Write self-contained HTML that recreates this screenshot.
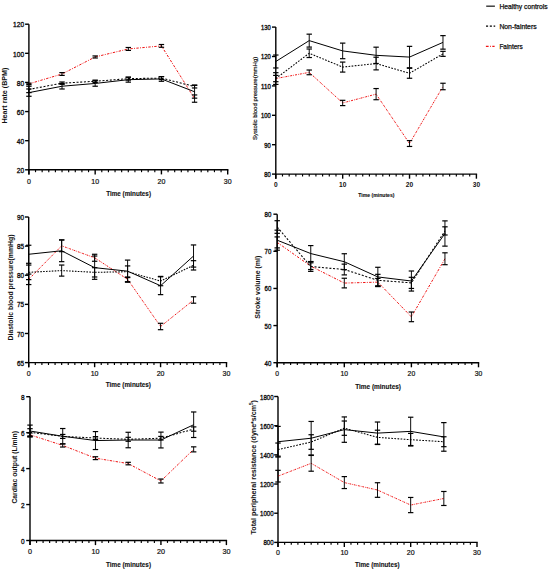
<!DOCTYPE html>
<html><head><meta charset="utf-8"><style>
html,body{margin:0;padding:0;background:#fff;}
svg{display:block;font-family:"Liberation Sans", sans-serif;}
</style></head><body>
<svg width="550" height="572" viewBox="0 0 550 572" fill="#111">
<rect width="550" height="572" fill="#fff"/>
<g id="p1">
<line x1="28.90" y1="24.20" x2="28.90" y2="174.40" stroke="#000" stroke-width="1.4" />
<line x1="28.20" y1="169.80" x2="228.40" y2="169.80" stroke="#000" stroke-width="1.4" />
<line x1="25.10" y1="169.80" x2="28.90" y2="169.80" stroke="#000" stroke-width="1.4" />
<text x="20.43" y="173.00" text-anchor="middle" font-size="7.3" font-weight="normal" textLength="7.34" lengthAdjust="spacingAndGlyphs" stroke="#111" stroke-width="0.34" >20</text>
<line x1="25.10" y1="140.68" x2="28.90" y2="140.68" stroke="#000" stroke-width="1.4" />
<text x="20.43" y="143.88" text-anchor="middle" font-size="7.3" font-weight="normal" textLength="7.34" lengthAdjust="spacingAndGlyphs" stroke="#111" stroke-width="0.34" >40</text>
<line x1="25.10" y1="111.56" x2="28.90" y2="111.56" stroke="#000" stroke-width="1.4" />
<text x="20.43" y="114.76" text-anchor="middle" font-size="7.3" font-weight="normal" textLength="7.34" lengthAdjust="spacingAndGlyphs" stroke="#111" stroke-width="0.34" >60</text>
<line x1="25.10" y1="82.44" x2="28.90" y2="82.44" stroke="#000" stroke-width="1.4" />
<text x="20.43" y="85.64" text-anchor="middle" font-size="7.3" font-weight="normal" textLength="7.34" lengthAdjust="spacingAndGlyphs" stroke="#111" stroke-width="0.34" >80</text>
<line x1="25.10" y1="53.32" x2="28.90" y2="53.32" stroke="#000" stroke-width="1.4" />
<text x="18.59" y="56.52" text-anchor="middle" font-size="7.3" font-weight="normal" textLength="11.01" lengthAdjust="spacingAndGlyphs" stroke="#111" stroke-width="0.34" >100</text>
<line x1="25.10" y1="24.20" x2="28.90" y2="24.20" stroke="#000" stroke-width="1.4" />
<text x="18.59" y="27.40" text-anchor="middle" font-size="7.3" font-weight="normal" textLength="11.01" lengthAdjust="spacingAndGlyphs" stroke="#111" stroke-width="0.34" >120</text>
<line x1="28.90" y1="169.80" x2="28.90" y2="174.40" stroke="#000" stroke-width="1.4" />
<text x="28.90" y="183.52" text-anchor="middle" font-size="7.0" font-weight="normal" stroke="#111" stroke-width="0.2" >0</text>
<line x1="35.53" y1="169.80" x2="35.53" y2="172.20" stroke="#000" stroke-width="1.15" />
<line x1="42.15" y1="169.80" x2="42.15" y2="172.20" stroke="#000" stroke-width="1.15" />
<line x1="48.78" y1="169.80" x2="48.78" y2="172.20" stroke="#000" stroke-width="1.15" />
<line x1="55.41" y1="169.80" x2="55.41" y2="172.20" stroke="#000" stroke-width="1.15" />
<line x1="62.03" y1="169.80" x2="62.03" y2="172.20" stroke="#000" stroke-width="1.15" />
<line x1="68.66" y1="169.80" x2="68.66" y2="172.20" stroke="#000" stroke-width="1.15" />
<line x1="75.29" y1="169.80" x2="75.29" y2="172.20" stroke="#000" stroke-width="1.15" />
<line x1="81.91" y1="169.80" x2="81.91" y2="172.20" stroke="#000" stroke-width="1.15" />
<line x1="88.54" y1="169.80" x2="88.54" y2="172.20" stroke="#000" stroke-width="1.15" />
<line x1="95.17" y1="169.80" x2="95.17" y2="174.40" stroke="#000" stroke-width="1.4" />
<text x="95.17" y="183.52" text-anchor="middle" font-size="7.0" font-weight="normal" stroke="#111" stroke-width="0.2" >10</text>
<line x1="101.79" y1="169.80" x2="101.79" y2="172.20" stroke="#000" stroke-width="1.15" />
<line x1="108.42" y1="169.80" x2="108.42" y2="172.20" stroke="#000" stroke-width="1.15" />
<line x1="115.05" y1="169.80" x2="115.05" y2="172.20" stroke="#000" stroke-width="1.15" />
<line x1="121.67" y1="169.80" x2="121.67" y2="172.20" stroke="#000" stroke-width="1.15" />
<line x1="128.30" y1="169.80" x2="128.30" y2="172.20" stroke="#000" stroke-width="1.15" />
<line x1="134.93" y1="169.80" x2="134.93" y2="172.20" stroke="#000" stroke-width="1.15" />
<line x1="141.55" y1="169.80" x2="141.55" y2="172.20" stroke="#000" stroke-width="1.15" />
<line x1="148.18" y1="169.80" x2="148.18" y2="172.20" stroke="#000" stroke-width="1.15" />
<line x1="154.81" y1="169.80" x2="154.81" y2="172.20" stroke="#000" stroke-width="1.15" />
<line x1="161.43" y1="169.80" x2="161.43" y2="174.40" stroke="#000" stroke-width="1.4" />
<text x="161.43" y="183.52" text-anchor="middle" font-size="7.0" font-weight="normal" stroke="#111" stroke-width="0.2" >20</text>
<line x1="168.06" y1="169.80" x2="168.06" y2="172.20" stroke="#000" stroke-width="1.15" />
<line x1="174.69" y1="169.80" x2="174.69" y2="172.20" stroke="#000" stroke-width="1.15" />
<line x1="181.31" y1="169.80" x2="181.31" y2="172.20" stroke="#000" stroke-width="1.15" />
<line x1="187.94" y1="169.80" x2="187.94" y2="172.20" stroke="#000" stroke-width="1.15" />
<line x1="194.57" y1="169.80" x2="194.57" y2="172.20" stroke="#000" stroke-width="1.15" />
<line x1="201.19" y1="169.80" x2="201.19" y2="172.20" stroke="#000" stroke-width="1.15" />
<line x1="207.82" y1="169.80" x2="207.82" y2="172.20" stroke="#000" stroke-width="1.15" />
<line x1="214.45" y1="169.80" x2="214.45" y2="172.20" stroke="#000" stroke-width="1.15" />
<line x1="221.07" y1="169.80" x2="221.07" y2="172.20" stroke="#000" stroke-width="1.15" />
<line x1="227.70" y1="169.80" x2="227.70" y2="174.40" stroke="#000" stroke-width="1.4" />
<text x="227.70" y="183.52" text-anchor="middle" font-size="7.0" font-weight="normal" stroke="#111" stroke-width="0.2" >30</text>
<text x="128.60" y="195.70" text-anchor="middle" font-size="6.8" font-weight="bold" textLength="44.80" lengthAdjust="spacingAndGlyphs" stroke="#111" stroke-width="0.12" >Time (minutes)</text>
<text transform="translate(7.30,95.60) rotate(-90)" text-anchor="middle" font-size="6.6" font-weight="bold" textLength="56.00" lengthAdjust="spacingAndGlyphs" >Heart rate (BPM)</text>
<polyline points="28.90,83.90 62.03,74.00 95.17,56.96 128.30,48.95 161.43,45.89 194.57,98.60" fill="none" stroke="#f01414" stroke-width="1.0" stroke-dasharray="2.40,1.35,0.90,1.35"/>
<polyline points="28.90,89.43 62.03,83.17 95.17,81.28 128.30,78.65 161.43,78.07 194.57,86.52" fill="none" stroke="#000" stroke-width="1.05" stroke-dasharray="2.04,1.67"/>
<polyline points="28.90,92.63 62.03,86.23 95.17,83.46 128.30,79.67 161.43,78.95 194.57,91.76" fill="none" stroke="#000" stroke-width="1.0" />
<line x1="28.90" y1="88.99" x2="28.90" y2="96.27" stroke="#000" stroke-width="0.95" />
<line x1="26.20" y1="88.99" x2="31.60" y2="88.99" stroke="#000" stroke-width="1.2" />
<line x1="26.20" y1="96.27" x2="31.60" y2="96.27" stroke="#000" stroke-width="1.2" />
<line x1="62.03" y1="83.46" x2="62.03" y2="88.99" stroke="#000" stroke-width="0.95" />
<line x1="59.33" y1="83.46" x2="64.73" y2="83.46" stroke="#000" stroke-width="1.2" />
<line x1="59.33" y1="88.99" x2="64.73" y2="88.99" stroke="#000" stroke-width="1.2" />
<line x1="95.17" y1="80.69" x2="95.17" y2="86.23" stroke="#000" stroke-width="0.95" />
<line x1="92.47" y1="80.69" x2="97.87" y2="80.69" stroke="#000" stroke-width="1.2" />
<line x1="92.47" y1="86.23" x2="97.87" y2="86.23" stroke="#000" stroke-width="1.2" />
<line x1="128.30" y1="77.20" x2="128.30" y2="82.15" stroke="#000" stroke-width="0.95" />
<line x1="125.60" y1="77.20" x2="131.00" y2="77.20" stroke="#000" stroke-width="1.2" />
<line x1="125.60" y1="82.15" x2="131.00" y2="82.15" stroke="#000" stroke-width="1.2" />
<line x1="161.43" y1="76.62" x2="161.43" y2="81.28" stroke="#000" stroke-width="0.95" />
<line x1="158.73" y1="76.62" x2="164.13" y2="76.62" stroke="#000" stroke-width="1.2" />
<line x1="158.73" y1="81.28" x2="164.13" y2="81.28" stroke="#000" stroke-width="1.2" />
<line x1="194.57" y1="85.35" x2="194.57" y2="98.16" stroke="#000" stroke-width="0.95" />
<line x1="191.87" y1="85.35" x2="197.27" y2="85.35" stroke="#000" stroke-width="1.2" />
<line x1="191.87" y1="98.16" x2="197.27" y2="98.16" stroke="#000" stroke-width="1.2" />
<line x1="28.90" y1="86.23" x2="28.90" y2="92.63" stroke="#000" stroke-width="0.95" />
<line x1="26.20" y1="86.23" x2="31.60" y2="86.23" stroke="#000" stroke-width="1.2" />
<line x1="26.20" y1="92.63" x2="31.60" y2="92.63" stroke="#000" stroke-width="1.2" />
<line x1="62.03" y1="82.00" x2="62.03" y2="84.33" stroke="#000" stroke-width="0.95" />
<line x1="59.33" y1="82.00" x2="64.73" y2="82.00" stroke="#000" stroke-width="1.2" />
<line x1="59.33" y1="84.33" x2="64.73" y2="84.33" stroke="#000" stroke-width="1.2" />
<line x1="95.17" y1="80.11" x2="95.17" y2="82.44" stroke="#000" stroke-width="0.95" />
<line x1="92.47" y1="80.11" x2="97.87" y2="80.11" stroke="#000" stroke-width="1.2" />
<line x1="92.47" y1="82.44" x2="97.87" y2="82.44" stroke="#000" stroke-width="1.2" />
<line x1="128.30" y1="77.20" x2="128.30" y2="80.11" stroke="#000" stroke-width="0.95" />
<line x1="125.60" y1="77.20" x2="131.00" y2="77.20" stroke="#000" stroke-width="1.2" />
<line x1="125.60" y1="80.11" x2="131.00" y2="80.11" stroke="#000" stroke-width="1.2" />
<line x1="161.43" y1="76.62" x2="161.43" y2="79.53" stroke="#000" stroke-width="0.95" />
<line x1="158.73" y1="76.62" x2="164.13" y2="76.62" stroke="#000" stroke-width="1.2" />
<line x1="158.73" y1="79.53" x2="164.13" y2="79.53" stroke="#000" stroke-width="1.2" />
<line x1="194.57" y1="85.06" x2="194.57" y2="87.97" stroke="#000" stroke-width="0.95" />
<line x1="191.87" y1="85.06" x2="197.27" y2="85.06" stroke="#000" stroke-width="1.2" />
<line x1="191.87" y1="87.97" x2="197.27" y2="87.97" stroke="#000" stroke-width="1.2" />
<line x1="28.90" y1="83.17" x2="28.90" y2="84.62" stroke="#000" stroke-width="0.95" />
<line x1="26.20" y1="83.17" x2="31.60" y2="83.17" stroke="#000" stroke-width="1.2" />
<line x1="26.20" y1="84.62" x2="31.60" y2="84.62" stroke="#000" stroke-width="1.2" />
<line x1="62.03" y1="72.61" x2="62.03" y2="75.38" stroke="#000" stroke-width="0.95" />
<line x1="59.33" y1="72.61" x2="64.73" y2="72.61" stroke="#000" stroke-width="1.2" />
<line x1="59.33" y1="75.38" x2="64.73" y2="75.38" stroke="#000" stroke-width="1.2" />
<line x1="95.17" y1="55.94" x2="95.17" y2="57.98" stroke="#000" stroke-width="0.95" />
<line x1="92.47" y1="55.94" x2="97.87" y2="55.94" stroke="#000" stroke-width="1.2" />
<line x1="92.47" y1="57.98" x2="97.87" y2="57.98" stroke="#000" stroke-width="1.2" />
<line x1="128.30" y1="47.50" x2="128.30" y2="50.41" stroke="#000" stroke-width="0.95" />
<line x1="125.60" y1="47.50" x2="131.00" y2="47.50" stroke="#000" stroke-width="1.2" />
<line x1="125.60" y1="50.41" x2="131.00" y2="50.41" stroke="#000" stroke-width="1.2" />
<line x1="161.43" y1="44.51" x2="161.43" y2="47.28" stroke="#000" stroke-width="0.95" />
<line x1="158.73" y1="44.51" x2="164.13" y2="44.51" stroke="#000" stroke-width="1.2" />
<line x1="158.73" y1="47.28" x2="164.13" y2="47.28" stroke="#000" stroke-width="1.2" />
<line x1="194.57" y1="94.96" x2="194.57" y2="102.24" stroke="#000" stroke-width="0.95" />
<line x1="191.87" y1="94.96" x2="197.27" y2="94.96" stroke="#000" stroke-width="1.2" />
<line x1="191.87" y1="102.24" x2="197.27" y2="102.24" stroke="#000" stroke-width="1.2" />
</g>
<g id="p2">
<line x1="275.80" y1="27.10" x2="275.80" y2="178.70" stroke="#000" stroke-width="1.4" />
<line x1="275.10" y1="174.10" x2="477.10" y2="174.10" stroke="#000" stroke-width="1.4" />
<line x1="272.00" y1="174.10" x2="275.80" y2="174.10" stroke="#000" stroke-width="1.4" />
<text x="267.55" y="176.97" text-anchor="middle" font-size="6.4" font-weight="normal" textLength="6.50" lengthAdjust="spacingAndGlyphs" stroke="#111" stroke-width="0.34" >80</text>
<line x1="272.00" y1="144.70" x2="275.80" y2="144.70" stroke="#000" stroke-width="1.4" />
<text x="267.55" y="147.57" text-anchor="middle" font-size="6.4" font-weight="normal" textLength="6.50" lengthAdjust="spacingAndGlyphs" stroke="#111" stroke-width="0.34" >90</text>
<line x1="272.00" y1="115.30" x2="275.80" y2="115.30" stroke="#000" stroke-width="1.4" />
<text x="265.93" y="118.17" text-anchor="middle" font-size="6.4" font-weight="normal" textLength="9.75" lengthAdjust="spacingAndGlyphs" stroke="#111" stroke-width="0.34" >100</text>
<line x1="272.00" y1="85.90" x2="275.80" y2="85.90" stroke="#000" stroke-width="1.4" />
<text x="265.93" y="88.77" text-anchor="middle" font-size="6.4" font-weight="normal" textLength="9.75" lengthAdjust="spacingAndGlyphs" stroke="#111" stroke-width="0.34" >110</text>
<line x1="272.00" y1="56.50" x2="275.80" y2="56.50" stroke="#000" stroke-width="1.4" />
<text x="265.93" y="59.37" text-anchor="middle" font-size="6.4" font-weight="normal" textLength="9.75" lengthAdjust="spacingAndGlyphs" stroke="#111" stroke-width="0.34" >120</text>
<line x1="272.00" y1="27.10" x2="275.80" y2="27.10" stroke="#000" stroke-width="1.4" />
<text x="265.93" y="29.97" text-anchor="middle" font-size="6.4" font-weight="normal" textLength="9.75" lengthAdjust="spacingAndGlyphs" stroke="#111" stroke-width="0.34" >130</text>
<line x1="275.80" y1="174.10" x2="275.80" y2="178.70" stroke="#000" stroke-width="1.4" />
<text x="275.80" y="186.78" text-anchor="middle" font-size="6.6" font-weight="bold" >0</text>
<line x1="282.49" y1="174.10" x2="282.49" y2="176.50" stroke="#000" stroke-width="1.15" />
<line x1="289.17" y1="174.10" x2="289.17" y2="176.50" stroke="#000" stroke-width="1.15" />
<line x1="295.86" y1="174.10" x2="295.86" y2="176.50" stroke="#000" stroke-width="1.15" />
<line x1="302.55" y1="174.10" x2="302.55" y2="176.50" stroke="#000" stroke-width="1.15" />
<line x1="309.23" y1="174.10" x2="309.23" y2="176.50" stroke="#000" stroke-width="1.15" />
<line x1="315.92" y1="174.10" x2="315.92" y2="176.50" stroke="#000" stroke-width="1.15" />
<line x1="322.61" y1="174.10" x2="322.61" y2="176.50" stroke="#000" stroke-width="1.15" />
<line x1="329.29" y1="174.10" x2="329.29" y2="176.50" stroke="#000" stroke-width="1.15" />
<line x1="335.98" y1="174.10" x2="335.98" y2="176.50" stroke="#000" stroke-width="1.15" />
<line x1="342.67" y1="174.10" x2="342.67" y2="178.70" stroke="#000" stroke-width="1.4" />
<text x="342.67" y="186.78" text-anchor="middle" font-size="6.6" font-weight="bold" >10</text>
<line x1="349.35" y1="174.10" x2="349.35" y2="176.50" stroke="#000" stroke-width="1.15" />
<line x1="356.04" y1="174.10" x2="356.04" y2="176.50" stroke="#000" stroke-width="1.15" />
<line x1="362.73" y1="174.10" x2="362.73" y2="176.50" stroke="#000" stroke-width="1.15" />
<line x1="369.41" y1="174.10" x2="369.41" y2="176.50" stroke="#000" stroke-width="1.15" />
<line x1="376.10" y1="174.10" x2="376.10" y2="176.50" stroke="#000" stroke-width="1.15" />
<line x1="382.79" y1="174.10" x2="382.79" y2="176.50" stroke="#000" stroke-width="1.15" />
<line x1="389.47" y1="174.10" x2="389.47" y2="176.50" stroke="#000" stroke-width="1.15" />
<line x1="396.16" y1="174.10" x2="396.16" y2="176.50" stroke="#000" stroke-width="1.15" />
<line x1="402.85" y1="174.10" x2="402.85" y2="176.50" stroke="#000" stroke-width="1.15" />
<line x1="409.53" y1="174.10" x2="409.53" y2="178.70" stroke="#000" stroke-width="1.4" />
<text x="409.53" y="186.78" text-anchor="middle" font-size="6.6" font-weight="bold" >20</text>
<line x1="416.22" y1="174.10" x2="416.22" y2="176.50" stroke="#000" stroke-width="1.15" />
<line x1="422.91" y1="174.10" x2="422.91" y2="176.50" stroke="#000" stroke-width="1.15" />
<line x1="429.59" y1="174.10" x2="429.59" y2="176.50" stroke="#000" stroke-width="1.15" />
<line x1="436.28" y1="174.10" x2="436.28" y2="176.50" stroke="#000" stroke-width="1.15" />
<line x1="442.97" y1="174.10" x2="442.97" y2="176.50" stroke="#000" stroke-width="1.15" />
<line x1="449.65" y1="174.10" x2="449.65" y2="176.50" stroke="#000" stroke-width="1.15" />
<line x1="456.34" y1="174.10" x2="456.34" y2="176.50" stroke="#000" stroke-width="1.15" />
<line x1="463.03" y1="174.10" x2="463.03" y2="176.50" stroke="#000" stroke-width="1.15" />
<line x1="469.71" y1="174.10" x2="469.71" y2="176.50" stroke="#000" stroke-width="1.15" />
<line x1="476.40" y1="174.10" x2="476.40" y2="178.70" stroke="#000" stroke-width="1.4" />
<text x="476.40" y="186.78" text-anchor="middle" font-size="6.6" font-weight="bold" >30</text>
<text x="376.35" y="197.00" text-anchor="middle" font-size="5.5" font-weight="bold" textLength="36.30" lengthAdjust="spacingAndGlyphs" stroke="#111" stroke-width="0.12" >Time (minutes)</text>
<text transform="translate(256.60,98.45) rotate(-90)" text-anchor="middle" font-size="5.8" font-weight="normal" textLength="83.30" lengthAdjust="spacingAndGlyphs" stroke="#111" stroke-width="0.2" >Systolic blood pressure(mmHg)</text>
<polyline points="275.80,78.55 309.23,72.38 342.67,102.95 376.10,94.13 409.53,143.52 442.97,86.49" fill="none" stroke="#f01414" stroke-width="1.0" stroke-dasharray="1.96,1.10,0.73,1.10"/>
<polyline points="275.80,78.55 309.23,53.27 342.67,67.08 376.10,63.56 409.53,73.26 442.97,53.85" fill="none" stroke="#000" stroke-width="1.05" stroke-dasharray="1.71,1.40"/>
<polyline points="275.80,61.50 309.23,40.62 342.67,50.91 376.10,55.32 409.53,57.09 442.97,42.39" fill="none" stroke="#000" stroke-width="1.0" />
<line x1="275.80" y1="55.03" x2="275.80" y2="67.97" stroke="#000" stroke-width="0.95" />
<line x1="273.10" y1="55.03" x2="278.50" y2="55.03" stroke="#000" stroke-width="1.2" />
<line x1="273.10" y1="67.97" x2="278.50" y2="67.97" stroke="#000" stroke-width="1.2" />
<line x1="309.23" y1="34.16" x2="309.23" y2="47.09" stroke="#000" stroke-width="0.95" />
<line x1="306.53" y1="34.16" x2="311.93" y2="34.16" stroke="#000" stroke-width="1.2" />
<line x1="306.53" y1="47.09" x2="311.93" y2="47.09" stroke="#000" stroke-width="1.2" />
<line x1="342.67" y1="43.12" x2="342.67" y2="58.70" stroke="#000" stroke-width="0.95" />
<line x1="339.97" y1="43.12" x2="345.37" y2="43.12" stroke="#000" stroke-width="1.2" />
<line x1="339.97" y1="58.70" x2="345.37" y2="58.70" stroke="#000" stroke-width="1.2" />
<line x1="376.10" y1="47.18" x2="376.10" y2="63.47" stroke="#000" stroke-width="0.95" />
<line x1="373.40" y1="47.18" x2="378.80" y2="47.18" stroke="#000" stroke-width="1.2" />
<line x1="373.40" y1="63.47" x2="378.80" y2="63.47" stroke="#000" stroke-width="1.2" />
<line x1="409.53" y1="46.36" x2="409.53" y2="67.82" stroke="#000" stroke-width="0.95" />
<line x1="406.83" y1="46.36" x2="412.23" y2="46.36" stroke="#000" stroke-width="1.2" />
<line x1="406.83" y1="67.82" x2="412.23" y2="67.82" stroke="#000" stroke-width="1.2" />
<line x1="442.97" y1="35.63" x2="442.97" y2="49.15" stroke="#000" stroke-width="0.95" />
<line x1="440.27" y1="35.63" x2="445.67" y2="35.63" stroke="#000" stroke-width="1.2" />
<line x1="440.27" y1="49.15" x2="445.67" y2="49.15" stroke="#000" stroke-width="1.2" />
<line x1="275.80" y1="72.67" x2="275.80" y2="84.43" stroke="#000" stroke-width="0.95" />
<line x1="273.10" y1="72.67" x2="278.50" y2="72.67" stroke="#000" stroke-width="1.2" />
<line x1="273.10" y1="84.43" x2="278.50" y2="84.43" stroke="#000" stroke-width="1.2" />
<line x1="309.23" y1="49.00" x2="309.23" y2="57.53" stroke="#000" stroke-width="0.95" />
<line x1="306.53" y1="49.00" x2="311.93" y2="49.00" stroke="#000" stroke-width="1.2" />
<line x1="306.53" y1="57.53" x2="311.93" y2="57.53" stroke="#000" stroke-width="1.2" />
<line x1="342.67" y1="62.09" x2="342.67" y2="72.08" stroke="#000" stroke-width="0.95" />
<line x1="339.97" y1="62.09" x2="345.37" y2="62.09" stroke="#000" stroke-width="1.2" />
<line x1="339.97" y1="72.08" x2="345.37" y2="72.08" stroke="#000" stroke-width="1.2" />
<line x1="376.10" y1="57.23" x2="376.10" y2="69.88" stroke="#000" stroke-width="0.95" />
<line x1="373.40" y1="57.23" x2="378.80" y2="57.23" stroke="#000" stroke-width="1.2" />
<line x1="373.40" y1="69.88" x2="378.80" y2="69.88" stroke="#000" stroke-width="1.2" />
<line x1="409.53" y1="68.26" x2="409.53" y2="78.26" stroke="#000" stroke-width="0.95" />
<line x1="406.83" y1="68.26" x2="412.23" y2="68.26" stroke="#000" stroke-width="1.2" />
<line x1="406.83" y1="78.26" x2="412.23" y2="78.26" stroke="#000" stroke-width="1.2" />
<line x1="442.97" y1="51.35" x2="442.97" y2="56.35" stroke="#000" stroke-width="0.95" />
<line x1="440.27" y1="51.35" x2="445.67" y2="51.35" stroke="#000" stroke-width="1.2" />
<line x1="440.27" y1="56.35" x2="445.67" y2="56.35" stroke="#000" stroke-width="1.2" />
<line x1="275.80" y1="75.40" x2="275.80" y2="81.70" stroke="#000" stroke-width="0.95" />
<line x1="273.10" y1="75.40" x2="278.50" y2="75.40" stroke="#000" stroke-width="1.2" />
<line x1="273.10" y1="81.70" x2="278.50" y2="81.70" stroke="#000" stroke-width="1.2" />
<line x1="309.23" y1="70.02" x2="309.23" y2="74.73" stroke="#000" stroke-width="0.95" />
<line x1="306.53" y1="70.02" x2="311.93" y2="70.02" stroke="#000" stroke-width="1.2" />
<line x1="306.53" y1="74.73" x2="311.93" y2="74.73" stroke="#000" stroke-width="1.2" />
<line x1="342.67" y1="100.31" x2="342.67" y2="105.60" stroke="#000" stroke-width="0.95" />
<line x1="339.97" y1="100.31" x2="345.37" y2="100.31" stroke="#000" stroke-width="1.2" />
<line x1="339.97" y1="105.60" x2="345.37" y2="105.60" stroke="#000" stroke-width="1.2" />
<line x1="376.10" y1="88.55" x2="376.10" y2="99.72" stroke="#000" stroke-width="0.95" />
<line x1="373.40" y1="88.55" x2="378.80" y2="88.55" stroke="#000" stroke-width="1.2" />
<line x1="373.40" y1="99.72" x2="378.80" y2="99.72" stroke="#000" stroke-width="1.2" />
<line x1="409.53" y1="140.58" x2="409.53" y2="146.46" stroke="#000" stroke-width="0.95" />
<line x1="406.83" y1="140.58" x2="412.23" y2="140.58" stroke="#000" stroke-width="1.2" />
<line x1="406.83" y1="146.46" x2="412.23" y2="146.46" stroke="#000" stroke-width="1.2" />
<line x1="442.97" y1="83.25" x2="442.97" y2="89.72" stroke="#000" stroke-width="0.95" />
<line x1="440.27" y1="83.25" x2="445.67" y2="83.25" stroke="#000" stroke-width="1.2" />
<line x1="440.27" y1="89.72" x2="445.67" y2="89.72" stroke="#000" stroke-width="1.2" />
</g>
<g id="p3">
<line x1="28.70" y1="217.00" x2="28.70" y2="367.20" stroke="#000" stroke-width="1.4" />
<line x1="28.00" y1="362.60" x2="227.20" y2="362.60" stroke="#000" stroke-width="1.4" />
<line x1="24.90" y1="362.60" x2="28.70" y2="362.60" stroke="#000" stroke-width="1.4" />
<text x="20.45" y="365.69" text-anchor="middle" font-size="7.0" font-weight="normal" textLength="7.10" lengthAdjust="spacingAndGlyphs" stroke="#111" stroke-width="0.34" >65</text>
<line x1="24.90" y1="333.48" x2="28.70" y2="333.48" stroke="#000" stroke-width="1.4" />
<text x="20.45" y="336.57" text-anchor="middle" font-size="7.0" font-weight="normal" textLength="7.10" lengthAdjust="spacingAndGlyphs" stroke="#111" stroke-width="0.34" >70</text>
<line x1="24.90" y1="304.36" x2="28.70" y2="304.36" stroke="#000" stroke-width="1.4" />
<text x="20.45" y="307.45" text-anchor="middle" font-size="7.0" font-weight="normal" textLength="7.10" lengthAdjust="spacingAndGlyphs" stroke="#111" stroke-width="0.34" >75</text>
<line x1="24.90" y1="275.24" x2="28.70" y2="275.24" stroke="#000" stroke-width="1.4" />
<text x="20.45" y="278.33" text-anchor="middle" font-size="7.0" font-weight="normal" textLength="7.10" lengthAdjust="spacingAndGlyphs" stroke="#111" stroke-width="0.34" >80</text>
<line x1="24.90" y1="246.12" x2="28.70" y2="246.12" stroke="#000" stroke-width="1.4" />
<text x="20.45" y="249.21" text-anchor="middle" font-size="7.0" font-weight="normal" textLength="7.10" lengthAdjust="spacingAndGlyphs" stroke="#111" stroke-width="0.34" >85</text>
<line x1="24.90" y1="217.00" x2="28.70" y2="217.00" stroke="#000" stroke-width="1.4" />
<text x="20.45" y="220.09" text-anchor="middle" font-size="7.0" font-weight="normal" textLength="7.10" lengthAdjust="spacingAndGlyphs" stroke="#111" stroke-width="0.34" >90</text>
<line x1="28.70" y1="362.60" x2="28.70" y2="367.20" stroke="#000" stroke-width="1.4" />
<text x="28.70" y="375.82" text-anchor="middle" font-size="7.0" font-weight="normal" stroke="#111" stroke-width="0.2" >0</text>
<line x1="35.29" y1="362.60" x2="35.29" y2="365.00" stroke="#000" stroke-width="1.15" />
<line x1="41.89" y1="362.60" x2="41.89" y2="365.00" stroke="#000" stroke-width="1.15" />
<line x1="48.48" y1="362.60" x2="48.48" y2="365.00" stroke="#000" stroke-width="1.15" />
<line x1="55.07" y1="362.60" x2="55.07" y2="365.00" stroke="#000" stroke-width="1.15" />
<line x1="61.67" y1="362.60" x2="61.67" y2="365.00" stroke="#000" stroke-width="1.15" />
<line x1="68.26" y1="362.60" x2="68.26" y2="365.00" stroke="#000" stroke-width="1.15" />
<line x1="74.85" y1="362.60" x2="74.85" y2="365.00" stroke="#000" stroke-width="1.15" />
<line x1="81.45" y1="362.60" x2="81.45" y2="365.00" stroke="#000" stroke-width="1.15" />
<line x1="88.04" y1="362.60" x2="88.04" y2="365.00" stroke="#000" stroke-width="1.15" />
<line x1="94.63" y1="362.60" x2="94.63" y2="367.20" stroke="#000" stroke-width="1.4" />
<text x="94.63" y="375.82" text-anchor="middle" font-size="7.0" font-weight="normal" stroke="#111" stroke-width="0.2" >10</text>
<line x1="101.23" y1="362.60" x2="101.23" y2="365.00" stroke="#000" stroke-width="1.15" />
<line x1="107.82" y1="362.60" x2="107.82" y2="365.00" stroke="#000" stroke-width="1.15" />
<line x1="114.41" y1="362.60" x2="114.41" y2="365.00" stroke="#000" stroke-width="1.15" />
<line x1="121.01" y1="362.60" x2="121.01" y2="365.00" stroke="#000" stroke-width="1.15" />
<line x1="127.60" y1="362.60" x2="127.60" y2="365.00" stroke="#000" stroke-width="1.15" />
<line x1="134.19" y1="362.60" x2="134.19" y2="365.00" stroke="#000" stroke-width="1.15" />
<line x1="140.79" y1="362.60" x2="140.79" y2="365.00" stroke="#000" stroke-width="1.15" />
<line x1="147.38" y1="362.60" x2="147.38" y2="365.00" stroke="#000" stroke-width="1.15" />
<line x1="153.97" y1="362.60" x2="153.97" y2="365.00" stroke="#000" stroke-width="1.15" />
<line x1="160.57" y1="362.60" x2="160.57" y2="367.20" stroke="#000" stroke-width="1.4" />
<text x="160.57" y="375.82" text-anchor="middle" font-size="7.0" font-weight="normal" stroke="#111" stroke-width="0.2" >20</text>
<line x1="167.16" y1="362.60" x2="167.16" y2="365.00" stroke="#000" stroke-width="1.15" />
<line x1="173.75" y1="362.60" x2="173.75" y2="365.00" stroke="#000" stroke-width="1.15" />
<line x1="180.35" y1="362.60" x2="180.35" y2="365.00" stroke="#000" stroke-width="1.15" />
<line x1="186.94" y1="362.60" x2="186.94" y2="365.00" stroke="#000" stroke-width="1.15" />
<line x1="193.53" y1="362.60" x2="193.53" y2="365.00" stroke="#000" stroke-width="1.15" />
<line x1="200.13" y1="362.60" x2="200.13" y2="365.00" stroke="#000" stroke-width="1.15" />
<line x1="206.72" y1="362.60" x2="206.72" y2="365.00" stroke="#000" stroke-width="1.15" />
<line x1="213.31" y1="362.60" x2="213.31" y2="365.00" stroke="#000" stroke-width="1.15" />
<line x1="219.91" y1="362.60" x2="219.91" y2="365.00" stroke="#000" stroke-width="1.15" />
<line x1="226.50" y1="362.60" x2="226.50" y2="367.20" stroke="#000" stroke-width="1.4" />
<text x="226.50" y="375.82" text-anchor="middle" font-size="7.0" font-weight="normal" stroke="#111" stroke-width="0.2" >30</text>
<text x="128.40" y="387.10" text-anchor="middle" font-size="6.8" font-weight="bold" textLength="45.20" lengthAdjust="spacingAndGlyphs" stroke="#111" stroke-width="0.12" >Time (minutes)</text>
<text transform="translate(13.30,287.50) rotate(-90)" text-anchor="middle" font-size="6.6" font-weight="bold" textLength="106.00" lengthAdjust="spacingAndGlyphs" >Diastolic blood pressure(mmHg)</text>
<polyline points="28.70,279.32 61.67,245.83 94.63,257.77 127.60,279.32 160.57,326.49 193.53,299.99" fill="none" stroke="#f01414" stroke-width="1.0" stroke-dasharray="1.84,1.03,0.69,1.03"/>
<polyline points="28.70,272.33 61.67,270.58 94.63,272.33 127.60,271.75 160.57,281.06 193.53,265.34" fill="none" stroke="#000" stroke-width="1.05" stroke-dasharray="1.59,1.30"/>
<polyline points="28.70,254.27 61.67,250.78 94.63,267.67 127.60,271.16 160.57,285.72 193.53,256.02" fill="none" stroke="#000" stroke-width="1.0" />
<line x1="28.70" y1="245.25" x2="28.70" y2="263.30" stroke="#000" stroke-width="0.95" />
<line x1="26.00" y1="245.25" x2="31.40" y2="245.25" stroke="#000" stroke-width="1.2" />
<line x1="26.00" y1="263.30" x2="31.40" y2="263.30" stroke="#000" stroke-width="1.2" />
<line x1="61.67" y1="239.89" x2="61.67" y2="261.67" stroke="#000" stroke-width="0.95" />
<line x1="58.97" y1="239.89" x2="64.37" y2="239.89" stroke="#000" stroke-width="1.2" />
<line x1="58.97" y1="261.67" x2="64.37" y2="261.67" stroke="#000" stroke-width="1.2" />
<line x1="94.63" y1="256.02" x2="94.63" y2="279.32" stroke="#000" stroke-width="0.95" />
<line x1="91.93" y1="256.02" x2="97.33" y2="256.02" stroke="#000" stroke-width="1.2" />
<line x1="91.93" y1="279.32" x2="97.33" y2="279.32" stroke="#000" stroke-width="1.2" />
<line x1="127.60" y1="260.10" x2="127.60" y2="282.23" stroke="#000" stroke-width="0.95" />
<line x1="124.90" y1="260.10" x2="130.30" y2="260.10" stroke="#000" stroke-width="1.2" />
<line x1="124.90" y1="282.23" x2="130.30" y2="282.23" stroke="#000" stroke-width="1.2" />
<line x1="160.57" y1="276.81" x2="160.57" y2="294.63" stroke="#000" stroke-width="0.95" />
<line x1="157.87" y1="276.81" x2="163.27" y2="276.81" stroke="#000" stroke-width="1.2" />
<line x1="157.87" y1="294.63" x2="163.27" y2="294.63" stroke="#000" stroke-width="1.2" />
<line x1="193.53" y1="244.96" x2="193.53" y2="267.09" stroke="#000" stroke-width="0.95" />
<line x1="190.83" y1="244.96" x2="196.23" y2="244.96" stroke="#000" stroke-width="1.2" />
<line x1="190.83" y1="267.09" x2="196.23" y2="267.09" stroke="#000" stroke-width="1.2" />
<line x1="28.70" y1="265.05" x2="28.70" y2="279.61" stroke="#000" stroke-width="0.95" />
<line x1="26.00" y1="265.05" x2="31.40" y2="265.05" stroke="#000" stroke-width="1.2" />
<line x1="26.00" y1="279.61" x2="31.40" y2="279.61" stroke="#000" stroke-width="1.2" />
<line x1="61.67" y1="265.05" x2="61.67" y2="276.11" stroke="#000" stroke-width="0.95" />
<line x1="58.97" y1="265.05" x2="64.37" y2="265.05" stroke="#000" stroke-width="1.2" />
<line x1="58.97" y1="276.11" x2="64.37" y2="276.11" stroke="#000" stroke-width="1.2" />
<line x1="94.63" y1="267.67" x2="94.63" y2="276.99" stroke="#000" stroke-width="0.95" />
<line x1="91.93" y1="267.67" x2="97.33" y2="267.67" stroke="#000" stroke-width="1.2" />
<line x1="91.93" y1="276.99" x2="97.33" y2="276.99" stroke="#000" stroke-width="1.2" />
<line x1="127.60" y1="265.92" x2="127.60" y2="277.57" stroke="#000" stroke-width="0.95" />
<line x1="124.90" y1="265.92" x2="130.30" y2="265.92" stroke="#000" stroke-width="1.2" />
<line x1="124.90" y1="277.57" x2="130.30" y2="277.57" stroke="#000" stroke-width="1.2" />
<line x1="160.57" y1="276.40" x2="160.57" y2="285.72" stroke="#000" stroke-width="0.95" />
<line x1="157.87" y1="276.40" x2="163.27" y2="276.40" stroke="#000" stroke-width="1.2" />
<line x1="157.87" y1="285.72" x2="163.27" y2="285.72" stroke="#000" stroke-width="1.2" />
<line x1="193.53" y1="260.68" x2="193.53" y2="270.00" stroke="#000" stroke-width="0.95" />
<line x1="190.83" y1="260.68" x2="196.23" y2="260.68" stroke="#000" stroke-width="1.2" />
<line x1="190.83" y1="270.00" x2="196.23" y2="270.00" stroke="#000" stroke-width="1.2" />
<line x1="28.70" y1="274.08" x2="28.70" y2="284.56" stroke="#000" stroke-width="0.95" />
<line x1="26.00" y1="274.08" x2="31.40" y2="274.08" stroke="#000" stroke-width="1.2" />
<line x1="26.00" y1="284.56" x2="31.40" y2="284.56" stroke="#000" stroke-width="1.2" />
<line x1="61.67" y1="240.00" x2="61.67" y2="251.65" stroke="#000" stroke-width="0.95" />
<line x1="58.97" y1="240.00" x2="64.37" y2="240.00" stroke="#000" stroke-width="1.2" />
<line x1="58.97" y1="251.65" x2="64.37" y2="251.65" stroke="#000" stroke-width="1.2" />
<line x1="94.63" y1="254.27" x2="94.63" y2="261.26" stroke="#000" stroke-width="0.95" />
<line x1="91.93" y1="254.27" x2="97.33" y2="254.27" stroke="#000" stroke-width="1.2" />
<line x1="91.93" y1="261.26" x2="97.33" y2="261.26" stroke="#000" stroke-width="1.2" />
<line x1="127.60" y1="276.99" x2="127.60" y2="281.65" stroke="#000" stroke-width="0.95" />
<line x1="124.90" y1="276.99" x2="130.30" y2="276.99" stroke="#000" stroke-width="1.2" />
<line x1="124.90" y1="281.65" x2="130.30" y2="281.65" stroke="#000" stroke-width="1.2" />
<line x1="160.57" y1="323.29" x2="160.57" y2="329.69" stroke="#000" stroke-width="0.95" />
<line x1="157.87" y1="323.29" x2="163.27" y2="323.29" stroke="#000" stroke-width="1.2" />
<line x1="157.87" y1="329.69" x2="163.27" y2="329.69" stroke="#000" stroke-width="1.2" />
<line x1="193.53" y1="296.79" x2="193.53" y2="303.20" stroke="#000" stroke-width="0.95" />
<line x1="190.83" y1="296.79" x2="196.23" y2="296.79" stroke="#000" stroke-width="1.2" />
<line x1="190.83" y1="303.20" x2="196.23" y2="303.20" stroke="#000" stroke-width="1.2" />
</g>
<g id="p4">
<line x1="277.20" y1="214.20" x2="277.20" y2="367.30" stroke="#000" stroke-width="1.4" />
<line x1="276.50" y1="362.70" x2="479.20" y2="362.70" stroke="#000" stroke-width="1.4" />
<line x1="273.40" y1="362.70" x2="277.20" y2="362.70" stroke="#000" stroke-width="1.4" />
<text x="268.00" y="365.72" text-anchor="middle" font-size="6.8" font-weight="normal" textLength="6.80" lengthAdjust="spacingAndGlyphs" stroke="#111" stroke-width="0.34" >40</text>
<line x1="273.40" y1="325.57" x2="277.20" y2="325.57" stroke="#000" stroke-width="1.4" />
<text x="268.00" y="328.59" text-anchor="middle" font-size="6.8" font-weight="normal" textLength="6.80" lengthAdjust="spacingAndGlyphs" stroke="#111" stroke-width="0.34" >50</text>
<line x1="273.40" y1="288.45" x2="277.20" y2="288.45" stroke="#000" stroke-width="1.4" />
<text x="268.00" y="291.47" text-anchor="middle" font-size="6.8" font-weight="normal" textLength="6.80" lengthAdjust="spacingAndGlyphs" stroke="#111" stroke-width="0.34" >60</text>
<line x1="273.40" y1="251.32" x2="277.20" y2="251.32" stroke="#000" stroke-width="1.4" />
<text x="268.00" y="254.34" text-anchor="middle" font-size="6.8" font-weight="normal" textLength="6.80" lengthAdjust="spacingAndGlyphs" stroke="#111" stroke-width="0.34" >70</text>
<line x1="273.40" y1="214.20" x2="277.20" y2="214.20" stroke="#000" stroke-width="1.4" />
<text x="268.00" y="217.22" text-anchor="middle" font-size="6.8" font-weight="normal" textLength="6.80" lengthAdjust="spacingAndGlyphs" stroke="#111" stroke-width="0.34" >80</text>
<line x1="277.20" y1="362.70" x2="277.20" y2="367.30" stroke="#000" stroke-width="1.4" />
<text x="277.20" y="376.45" text-anchor="middle" font-size="6.8" font-weight="normal" stroke="#111" stroke-width="0.2" >0</text>
<line x1="283.91" y1="362.70" x2="283.91" y2="365.10" stroke="#000" stroke-width="1.15" />
<line x1="290.62" y1="362.70" x2="290.62" y2="365.10" stroke="#000" stroke-width="1.15" />
<line x1="297.33" y1="362.70" x2="297.33" y2="365.10" stroke="#000" stroke-width="1.15" />
<line x1="304.04" y1="362.70" x2="304.04" y2="365.10" stroke="#000" stroke-width="1.15" />
<line x1="310.75" y1="362.70" x2="310.75" y2="365.10" stroke="#000" stroke-width="1.15" />
<line x1="317.46" y1="362.70" x2="317.46" y2="365.10" stroke="#000" stroke-width="1.15" />
<line x1="324.17" y1="362.70" x2="324.17" y2="365.10" stroke="#000" stroke-width="1.15" />
<line x1="330.88" y1="362.70" x2="330.88" y2="365.10" stroke="#000" stroke-width="1.15" />
<line x1="337.59" y1="362.70" x2="337.59" y2="365.10" stroke="#000" stroke-width="1.15" />
<line x1="344.30" y1="362.70" x2="344.30" y2="367.30" stroke="#000" stroke-width="1.4" />
<text x="344.30" y="376.45" text-anchor="middle" font-size="6.8" font-weight="normal" stroke="#111" stroke-width="0.2" >10</text>
<line x1="351.01" y1="362.70" x2="351.01" y2="365.10" stroke="#000" stroke-width="1.15" />
<line x1="357.72" y1="362.70" x2="357.72" y2="365.10" stroke="#000" stroke-width="1.15" />
<line x1="364.43" y1="362.70" x2="364.43" y2="365.10" stroke="#000" stroke-width="1.15" />
<line x1="371.14" y1="362.70" x2="371.14" y2="365.10" stroke="#000" stroke-width="1.15" />
<line x1="377.85" y1="362.70" x2="377.85" y2="365.10" stroke="#000" stroke-width="1.15" />
<line x1="384.56" y1="362.70" x2="384.56" y2="365.10" stroke="#000" stroke-width="1.15" />
<line x1="391.27" y1="362.70" x2="391.27" y2="365.10" stroke="#000" stroke-width="1.15" />
<line x1="397.98" y1="362.70" x2="397.98" y2="365.10" stroke="#000" stroke-width="1.15" />
<line x1="404.69" y1="362.70" x2="404.69" y2="365.10" stroke="#000" stroke-width="1.15" />
<line x1="411.40" y1="362.70" x2="411.40" y2="367.30" stroke="#000" stroke-width="1.4" />
<text x="411.40" y="376.45" text-anchor="middle" font-size="6.8" font-weight="normal" stroke="#111" stroke-width="0.2" >20</text>
<line x1="418.11" y1="362.70" x2="418.11" y2="365.10" stroke="#000" stroke-width="1.15" />
<line x1="424.82" y1="362.70" x2="424.82" y2="365.10" stroke="#000" stroke-width="1.15" />
<line x1="431.53" y1="362.70" x2="431.53" y2="365.10" stroke="#000" stroke-width="1.15" />
<line x1="438.24" y1="362.70" x2="438.24" y2="365.10" stroke="#000" stroke-width="1.15" />
<line x1="444.95" y1="362.70" x2="444.95" y2="365.10" stroke="#000" stroke-width="1.15" />
<line x1="451.66" y1="362.70" x2="451.66" y2="365.10" stroke="#000" stroke-width="1.15" />
<line x1="458.37" y1="362.70" x2="458.37" y2="365.10" stroke="#000" stroke-width="1.15" />
<line x1="465.08" y1="362.70" x2="465.08" y2="365.10" stroke="#000" stroke-width="1.15" />
<line x1="471.79" y1="362.70" x2="471.79" y2="365.10" stroke="#000" stroke-width="1.15" />
<line x1="478.50" y1="362.70" x2="478.50" y2="367.30" stroke="#000" stroke-width="1.4" />
<text x="478.50" y="376.45" text-anchor="middle" font-size="6.8" font-weight="normal" stroke="#111" stroke-width="0.2" >30</text>
<text x="378.10" y="388.80" text-anchor="middle" font-size="7.0" font-weight="bold" textLength="45.80" lengthAdjust="spacingAndGlyphs" stroke="#111" stroke-width="0.12" >Time (minutes)</text>
<text transform="translate(259.60,287.20) rotate(-90)" text-anchor="middle" font-size="6.8" font-weight="bold" textLength="63.00" lengthAdjust="spacingAndGlyphs" >Stroke volume (ml)</text>
<polyline points="277.20,242.41 310.75,266.17 344.30,283.07 377.85,282.14 411.40,316.85 444.95,258.75" fill="none" stroke="#f01414" stroke-width="1.0" stroke-dasharray="2.44,1.37,0.91,1.37"/>
<polyline points="277.20,227.01 310.75,266.55 344.30,269.52 377.85,280.28 411.40,282.88 444.95,230.91" fill="none" stroke="#000" stroke-width="1.05" stroke-dasharray="2.04,1.67"/>
<polyline points="277.20,240.19 310.75,253.55 344.30,261.72 377.85,276.94 411.40,281.02 444.95,233.50" fill="none" stroke="#000" stroke-width="1.0" />
<line x1="277.20" y1="230.16" x2="277.20" y2="250.21" stroke="#000" stroke-width="0.95" />
<line x1="274.50" y1="230.16" x2="279.90" y2="230.16" stroke="#000" stroke-width="1.2" />
<line x1="274.50" y1="250.21" x2="279.90" y2="250.21" stroke="#000" stroke-width="1.2" />
<line x1="310.75" y1="245.57" x2="310.75" y2="261.53" stroke="#000" stroke-width="0.95" />
<line x1="308.05" y1="245.57" x2="313.45" y2="245.57" stroke="#000" stroke-width="1.2" />
<line x1="308.05" y1="261.53" x2="313.45" y2="261.53" stroke="#000" stroke-width="1.2" />
<line x1="344.30" y1="253.74" x2="344.30" y2="269.70" stroke="#000" stroke-width="0.95" />
<line x1="341.60" y1="253.74" x2="347.00" y2="253.74" stroke="#000" stroke-width="1.2" />
<line x1="341.60" y1="269.70" x2="347.00" y2="269.70" stroke="#000" stroke-width="1.2" />
<line x1="377.85" y1="267.29" x2="377.85" y2="286.59" stroke="#000" stroke-width="0.95" />
<line x1="375.15" y1="267.29" x2="380.55" y2="267.29" stroke="#000" stroke-width="1.2" />
<line x1="375.15" y1="286.59" x2="380.55" y2="286.59" stroke="#000" stroke-width="1.2" />
<line x1="411.40" y1="271.00" x2="411.40" y2="291.05" stroke="#000" stroke-width="0.95" />
<line x1="408.70" y1="271.00" x2="414.10" y2="271.00" stroke="#000" stroke-width="1.2" />
<line x1="408.70" y1="291.05" x2="414.10" y2="291.05" stroke="#000" stroke-width="1.2" />
<line x1="444.95" y1="220.88" x2="444.95" y2="246.13" stroke="#000" stroke-width="0.95" />
<line x1="442.25" y1="220.88" x2="447.65" y2="220.88" stroke="#000" stroke-width="1.2" />
<line x1="442.25" y1="246.13" x2="447.65" y2="246.13" stroke="#000" stroke-width="1.2" />
<line x1="277.20" y1="220.70" x2="277.20" y2="233.32" stroke="#000" stroke-width="0.95" />
<line x1="274.50" y1="220.70" x2="279.90" y2="220.70" stroke="#000" stroke-width="1.2" />
<line x1="274.50" y1="233.32" x2="279.90" y2="233.32" stroke="#000" stroke-width="1.2" />
<line x1="310.75" y1="261.72" x2="310.75" y2="271.37" stroke="#000" stroke-width="0.95" />
<line x1="308.05" y1="261.72" x2="313.45" y2="261.72" stroke="#000" stroke-width="1.2" />
<line x1="308.05" y1="271.37" x2="313.45" y2="271.37" stroke="#000" stroke-width="1.2" />
<line x1="344.30" y1="264.13" x2="344.30" y2="274.90" stroke="#000" stroke-width="0.95" />
<line x1="341.60" y1="264.13" x2="347.00" y2="264.13" stroke="#000" stroke-width="1.2" />
<line x1="341.60" y1="274.90" x2="347.00" y2="274.90" stroke="#000" stroke-width="1.2" />
<line x1="377.85" y1="274.34" x2="377.85" y2="286.22" stroke="#000" stroke-width="0.95" />
<line x1="375.15" y1="274.34" x2="380.55" y2="274.34" stroke="#000" stroke-width="1.2" />
<line x1="375.15" y1="286.22" x2="380.55" y2="286.22" stroke="#000" stroke-width="1.2" />
<line x1="411.40" y1="277.31" x2="411.40" y2="288.45" stroke="#000" stroke-width="0.95" />
<line x1="408.70" y1="277.31" x2="414.10" y2="277.31" stroke="#000" stroke-width="1.2" />
<line x1="408.70" y1="288.45" x2="414.10" y2="288.45" stroke="#000" stroke-width="1.2" />
<line x1="444.95" y1="226.82" x2="444.95" y2="234.99" stroke="#000" stroke-width="0.95" />
<line x1="442.25" y1="226.82" x2="447.65" y2="226.82" stroke="#000" stroke-width="1.2" />
<line x1="442.25" y1="234.99" x2="447.65" y2="234.99" stroke="#000" stroke-width="1.2" />
<line x1="277.20" y1="236.92" x2="277.20" y2="247.91" stroke="#000" stroke-width="0.95" />
<line x1="274.50" y1="236.92" x2="279.90" y2="236.92" stroke="#000" stroke-width="1.2" />
<line x1="274.50" y1="247.91" x2="279.90" y2="247.91" stroke="#000" stroke-width="1.2" />
<line x1="310.75" y1="262.83" x2="310.75" y2="269.52" stroke="#000" stroke-width="0.95" />
<line x1="308.05" y1="262.83" x2="313.45" y2="262.83" stroke="#000" stroke-width="1.2" />
<line x1="308.05" y1="269.52" x2="313.45" y2="269.52" stroke="#000" stroke-width="1.2" />
<line x1="344.30" y1="278.24" x2="344.30" y2="287.89" stroke="#000" stroke-width="0.95" />
<line x1="341.60" y1="278.24" x2="347.00" y2="278.24" stroke="#000" stroke-width="1.2" />
<line x1="341.60" y1="287.89" x2="347.00" y2="287.89" stroke="#000" stroke-width="1.2" />
<line x1="377.85" y1="278.43" x2="377.85" y2="285.85" stroke="#000" stroke-width="0.95" />
<line x1="375.15" y1="278.43" x2="380.55" y2="278.43" stroke="#000" stroke-width="1.2" />
<line x1="375.15" y1="285.85" x2="380.55" y2="285.85" stroke="#000" stroke-width="1.2" />
<line x1="411.40" y1="312.02" x2="411.40" y2="321.68" stroke="#000" stroke-width="0.95" />
<line x1="408.70" y1="312.02" x2="414.10" y2="312.02" stroke="#000" stroke-width="1.2" />
<line x1="408.70" y1="321.68" x2="414.10" y2="321.68" stroke="#000" stroke-width="1.2" />
<line x1="444.95" y1="252.81" x2="444.95" y2="264.69" stroke="#000" stroke-width="0.95" />
<line x1="442.25" y1="252.81" x2="447.65" y2="252.81" stroke="#000" stroke-width="1.2" />
<line x1="442.25" y1="264.69" x2="447.65" y2="264.69" stroke="#000" stroke-width="1.2" />
</g>
<g id="p5">
<line x1="30.00" y1="396.70" x2="30.00" y2="545.10" stroke="#000" stroke-width="1.4" />
<line x1="29.30" y1="540.50" x2="227.10" y2="540.50" stroke="#000" stroke-width="1.4" />
<line x1="26.20" y1="540.50" x2="30.00" y2="540.50" stroke="#000" stroke-width="1.4" />
<text x="22.90" y="543.66" text-anchor="middle" font-size="7.2" font-weight="normal" textLength="3.60" lengthAdjust="spacingAndGlyphs" stroke="#111" stroke-width="0.34" >0</text>
<line x1="26.20" y1="504.55" x2="30.00" y2="504.55" stroke="#000" stroke-width="1.4" />
<text x="22.90" y="507.71" text-anchor="middle" font-size="7.2" font-weight="normal" textLength="3.60" lengthAdjust="spacingAndGlyphs" stroke="#111" stroke-width="0.34" >2</text>
<line x1="26.20" y1="468.60" x2="30.00" y2="468.60" stroke="#000" stroke-width="1.4" />
<text x="22.90" y="471.76" text-anchor="middle" font-size="7.2" font-weight="normal" textLength="3.60" lengthAdjust="spacingAndGlyphs" stroke="#111" stroke-width="0.34" >4</text>
<line x1="26.20" y1="432.65" x2="30.00" y2="432.65" stroke="#000" stroke-width="1.4" />
<text x="22.90" y="435.81" text-anchor="middle" font-size="7.2" font-weight="normal" textLength="3.60" lengthAdjust="spacingAndGlyphs" stroke="#111" stroke-width="0.34" >6</text>
<line x1="26.20" y1="396.70" x2="30.00" y2="396.70" stroke="#000" stroke-width="1.4" />
<text x="22.90" y="399.86" text-anchor="middle" font-size="7.2" font-weight="normal" textLength="3.60" lengthAdjust="spacingAndGlyphs" stroke="#111" stroke-width="0.34" >8</text>
<line x1="30.00" y1="540.50" x2="30.00" y2="545.10" stroke="#000" stroke-width="1.4" />
<text x="30.00" y="554.29" text-anchor="middle" font-size="7.2" font-weight="normal" stroke="#111" stroke-width="0.2" >0</text>
<line x1="36.55" y1="540.50" x2="36.55" y2="542.90" stroke="#000" stroke-width="1.15" />
<line x1="43.09" y1="540.50" x2="43.09" y2="542.90" stroke="#000" stroke-width="1.15" />
<line x1="49.64" y1="540.50" x2="49.64" y2="542.90" stroke="#000" stroke-width="1.15" />
<line x1="56.19" y1="540.50" x2="56.19" y2="542.90" stroke="#000" stroke-width="1.15" />
<line x1="62.73" y1="540.50" x2="62.73" y2="542.90" stroke="#000" stroke-width="1.15" />
<line x1="69.28" y1="540.50" x2="69.28" y2="542.90" stroke="#000" stroke-width="1.15" />
<line x1="75.83" y1="540.50" x2="75.83" y2="542.90" stroke="#000" stroke-width="1.15" />
<line x1="82.37" y1="540.50" x2="82.37" y2="542.90" stroke="#000" stroke-width="1.15" />
<line x1="88.92" y1="540.50" x2="88.92" y2="542.90" stroke="#000" stroke-width="1.15" />
<line x1="95.47" y1="540.50" x2="95.47" y2="545.10" stroke="#000" stroke-width="1.4" />
<text x="95.47" y="554.29" text-anchor="middle" font-size="7.2" font-weight="normal" stroke="#111" stroke-width="0.2" >10</text>
<line x1="102.01" y1="540.50" x2="102.01" y2="542.90" stroke="#000" stroke-width="1.15" />
<line x1="108.56" y1="540.50" x2="108.56" y2="542.90" stroke="#000" stroke-width="1.15" />
<line x1="115.11" y1="540.50" x2="115.11" y2="542.90" stroke="#000" stroke-width="1.15" />
<line x1="121.65" y1="540.50" x2="121.65" y2="542.90" stroke="#000" stroke-width="1.15" />
<line x1="128.20" y1="540.50" x2="128.20" y2="542.90" stroke="#000" stroke-width="1.15" />
<line x1="134.75" y1="540.50" x2="134.75" y2="542.90" stroke="#000" stroke-width="1.15" />
<line x1="141.29" y1="540.50" x2="141.29" y2="542.90" stroke="#000" stroke-width="1.15" />
<line x1="147.84" y1="540.50" x2="147.84" y2="542.90" stroke="#000" stroke-width="1.15" />
<line x1="154.39" y1="540.50" x2="154.39" y2="542.90" stroke="#000" stroke-width="1.15" />
<line x1="160.93" y1="540.50" x2="160.93" y2="545.10" stroke="#000" stroke-width="1.4" />
<text x="160.93" y="554.29" text-anchor="middle" font-size="7.2" font-weight="normal" stroke="#111" stroke-width="0.2" >20</text>
<line x1="167.48" y1="540.50" x2="167.48" y2="542.90" stroke="#000" stroke-width="1.15" />
<line x1="174.03" y1="540.50" x2="174.03" y2="542.90" stroke="#000" stroke-width="1.15" />
<line x1="180.57" y1="540.50" x2="180.57" y2="542.90" stroke="#000" stroke-width="1.15" />
<line x1="187.12" y1="540.50" x2="187.12" y2="542.90" stroke="#000" stroke-width="1.15" />
<line x1="193.67" y1="540.50" x2="193.67" y2="542.90" stroke="#000" stroke-width="1.15" />
<line x1="200.21" y1="540.50" x2="200.21" y2="542.90" stroke="#000" stroke-width="1.15" />
<line x1="206.76" y1="540.50" x2="206.76" y2="542.90" stroke="#000" stroke-width="1.15" />
<line x1="213.31" y1="540.50" x2="213.31" y2="542.90" stroke="#000" stroke-width="1.15" />
<line x1="219.85" y1="540.50" x2="219.85" y2="542.90" stroke="#000" stroke-width="1.15" />
<line x1="226.40" y1="540.50" x2="226.40" y2="545.10" stroke="#000" stroke-width="1.4" />
<text x="226.40" y="554.29" text-anchor="middle" font-size="7.2" font-weight="normal" stroke="#111" stroke-width="0.2" >30</text>
<text x="128.50" y="566.50" text-anchor="middle" font-size="6.8" font-weight="bold" textLength="45.00" lengthAdjust="spacingAndGlyphs" stroke="#111" stroke-width="0.12" >Time (minutes)</text>
<text transform="translate(17.30,467.35) rotate(-90)" text-anchor="middle" font-size="7.2" font-weight="bold" textLength="72.50" lengthAdjust="spacingAndGlyphs" >Cardiac output (L/min)</text>
<polyline points="30.00,434.81 62.73,445.41 95.47,458.17 128.20,463.57 160.93,481.00 193.67,449.37" fill="none" stroke="#f01414" stroke-width="1.0" stroke-dasharray="2.40,1.35,0.90,1.35"/>
<polyline points="30.00,432.29 62.73,436.42 95.47,438.04 128.20,439.30 160.93,438.22 193.67,429.06" fill="none" stroke="#000" stroke-width="1.05" stroke-dasharray="1.93,1.57"/>
<polyline points="30.00,431.03 62.73,436.25 95.47,440.56 128.20,440.02 160.93,440.02 193.67,424.74" fill="none" stroke="#000" stroke-width="1.0" />
<line x1="30.00" y1="425.10" x2="30.00" y2="436.96" stroke="#000" stroke-width="0.95" />
<line x1="27.30" y1="425.10" x2="32.70" y2="425.10" stroke="#000" stroke-width="1.2" />
<line x1="27.30" y1="436.96" x2="32.70" y2="436.96" stroke="#000" stroke-width="1.2" />
<line x1="62.73" y1="428.52" x2="62.73" y2="443.97" stroke="#000" stroke-width="0.95" />
<line x1="60.03" y1="428.52" x2="65.43" y2="428.52" stroke="#000" stroke-width="1.2" />
<line x1="60.03" y1="443.97" x2="65.43" y2="443.97" stroke="#000" stroke-width="1.2" />
<line x1="95.47" y1="431.57" x2="95.47" y2="449.55" stroke="#000" stroke-width="0.95" />
<line x1="92.77" y1="431.57" x2="98.17" y2="431.57" stroke="#000" stroke-width="1.2" />
<line x1="92.77" y1="449.55" x2="98.17" y2="449.55" stroke="#000" stroke-width="1.2" />
<line x1="128.20" y1="432.29" x2="128.20" y2="447.75" stroke="#000" stroke-width="0.95" />
<line x1="125.50" y1="432.29" x2="130.90" y2="432.29" stroke="#000" stroke-width="1.2" />
<line x1="125.50" y1="447.75" x2="130.90" y2="447.75" stroke="#000" stroke-width="1.2" />
<line x1="160.93" y1="432.11" x2="160.93" y2="447.93" stroke="#000" stroke-width="0.95" />
<line x1="158.23" y1="432.11" x2="163.63" y2="432.11" stroke="#000" stroke-width="1.2" />
<line x1="158.23" y1="447.93" x2="163.63" y2="447.93" stroke="#000" stroke-width="1.2" />
<line x1="193.67" y1="411.98" x2="193.67" y2="437.50" stroke="#000" stroke-width="0.95" />
<line x1="190.97" y1="411.98" x2="196.37" y2="411.98" stroke="#000" stroke-width="1.2" />
<line x1="190.97" y1="437.50" x2="196.37" y2="437.50" stroke="#000" stroke-width="1.2" />
<line x1="30.00" y1="428.70" x2="30.00" y2="435.89" stroke="#000" stroke-width="0.95" />
<line x1="27.30" y1="428.70" x2="32.70" y2="428.70" stroke="#000" stroke-width="1.2" />
<line x1="27.30" y1="435.89" x2="32.70" y2="435.89" stroke="#000" stroke-width="1.2" />
<line x1="62.73" y1="434.45" x2="62.73" y2="438.40" stroke="#000" stroke-width="0.95" />
<line x1="60.03" y1="434.45" x2="65.43" y2="434.45" stroke="#000" stroke-width="1.2" />
<line x1="60.03" y1="438.40" x2="65.43" y2="438.40" stroke="#000" stroke-width="1.2" />
<line x1="95.47" y1="436.60" x2="95.47" y2="439.48" stroke="#000" stroke-width="0.95" />
<line x1="92.77" y1="436.60" x2="98.17" y2="436.60" stroke="#000" stroke-width="1.2" />
<line x1="92.77" y1="439.48" x2="98.17" y2="439.48" stroke="#000" stroke-width="1.2" />
<line x1="128.20" y1="437.32" x2="128.20" y2="441.28" stroke="#000" stroke-width="0.95" />
<line x1="125.50" y1="437.32" x2="130.90" y2="437.32" stroke="#000" stroke-width="1.2" />
<line x1="125.50" y1="441.28" x2="130.90" y2="441.28" stroke="#000" stroke-width="1.2" />
<line x1="160.93" y1="436.42" x2="160.93" y2="440.02" stroke="#000" stroke-width="0.95" />
<line x1="158.23" y1="436.42" x2="163.63" y2="436.42" stroke="#000" stroke-width="1.2" />
<line x1="158.23" y1="440.02" x2="163.63" y2="440.02" stroke="#000" stroke-width="1.2" />
<line x1="193.67" y1="426.90" x2="193.67" y2="431.21" stroke="#000" stroke-width="0.95" />
<line x1="190.97" y1="426.90" x2="196.37" y2="426.90" stroke="#000" stroke-width="1.2" />
<line x1="190.97" y1="431.21" x2="196.37" y2="431.21" stroke="#000" stroke-width="1.2" />
<line x1="30.00" y1="433.01" x2="30.00" y2="436.60" stroke="#000" stroke-width="0.95" />
<line x1="27.30" y1="433.01" x2="32.70" y2="433.01" stroke="#000" stroke-width="1.2" />
<line x1="27.30" y1="436.60" x2="32.70" y2="436.60" stroke="#000" stroke-width="1.2" />
<line x1="62.73" y1="443.79" x2="62.73" y2="447.03" stroke="#000" stroke-width="0.95" />
<line x1="60.03" y1="443.79" x2="65.43" y2="443.79" stroke="#000" stroke-width="1.2" />
<line x1="60.03" y1="447.03" x2="65.43" y2="447.03" stroke="#000" stroke-width="1.2" />
<line x1="95.47" y1="456.74" x2="95.47" y2="459.61" stroke="#000" stroke-width="0.95" />
<line x1="92.77" y1="456.74" x2="98.17" y2="456.74" stroke="#000" stroke-width="1.2" />
<line x1="92.77" y1="459.61" x2="98.17" y2="459.61" stroke="#000" stroke-width="1.2" />
<line x1="128.20" y1="462.31" x2="128.20" y2="464.83" stroke="#000" stroke-width="0.95" />
<line x1="125.50" y1="462.31" x2="130.90" y2="462.31" stroke="#000" stroke-width="1.2" />
<line x1="125.50" y1="464.83" x2="130.90" y2="464.83" stroke="#000" stroke-width="1.2" />
<line x1="160.93" y1="479.03" x2="160.93" y2="482.98" stroke="#000" stroke-width="0.95" />
<line x1="158.23" y1="479.03" x2="163.63" y2="479.03" stroke="#000" stroke-width="1.2" />
<line x1="158.23" y1="482.98" x2="163.63" y2="482.98" stroke="#000" stroke-width="1.2" />
<line x1="193.67" y1="446.85" x2="193.67" y2="451.88" stroke="#000" stroke-width="0.95" />
<line x1="190.97" y1="446.85" x2="196.37" y2="446.85" stroke="#000" stroke-width="1.2" />
<line x1="190.97" y1="451.88" x2="196.37" y2="451.88" stroke="#000" stroke-width="1.2" />
</g>
<g id="p6">
<line x1="278.00" y1="396.50" x2="278.00" y2="547.00" stroke="#000" stroke-width="1.4" />
<line x1="277.30" y1="542.40" x2="477.70" y2="542.40" stroke="#000" stroke-width="1.4" />
<line x1="274.20" y1="542.40" x2="278.00" y2="542.40" stroke="#000" stroke-width="1.4" />
<text x="268.50" y="545.49" text-anchor="middle" font-size="7.0" font-weight="normal" textLength="10.20" lengthAdjust="spacingAndGlyphs" stroke="#111" stroke-width="0.34" >800</text>
<line x1="274.20" y1="513.22" x2="278.00" y2="513.22" stroke="#000" stroke-width="1.4" />
<text x="266.80" y="516.31" text-anchor="middle" font-size="7.0" font-weight="normal" textLength="13.60" lengthAdjust="spacingAndGlyphs" stroke="#111" stroke-width="0.34" >1000</text>
<line x1="274.20" y1="484.04" x2="278.00" y2="484.04" stroke="#000" stroke-width="1.4" />
<text x="266.80" y="487.13" text-anchor="middle" font-size="7.0" font-weight="normal" textLength="13.60" lengthAdjust="spacingAndGlyphs" stroke="#111" stroke-width="0.34" >1200</text>
<line x1="274.20" y1="454.86" x2="278.00" y2="454.86" stroke="#000" stroke-width="1.4" />
<text x="266.80" y="457.95" text-anchor="middle" font-size="7.0" font-weight="normal" textLength="13.60" lengthAdjust="spacingAndGlyphs" stroke="#111" stroke-width="0.34" >1400</text>
<line x1="274.20" y1="425.68" x2="278.00" y2="425.68" stroke="#000" stroke-width="1.4" />
<text x="266.80" y="428.77" text-anchor="middle" font-size="7.0" font-weight="normal" textLength="13.60" lengthAdjust="spacingAndGlyphs" stroke="#111" stroke-width="0.34" >1600</text>
<line x1="274.20" y1="396.50" x2="278.00" y2="396.50" stroke="#000" stroke-width="1.4" />
<text x="266.80" y="399.59" text-anchor="middle" font-size="7.0" font-weight="normal" textLength="13.60" lengthAdjust="spacingAndGlyphs" stroke="#111" stroke-width="0.34" >1800</text>
<line x1="278.00" y1="542.40" x2="278.00" y2="547.00" stroke="#000" stroke-width="1.4" />
<text x="278.00" y="554.82" text-anchor="middle" font-size="7.0" font-weight="normal" stroke="#111" stroke-width="0.2" >0</text>
<line x1="284.63" y1="542.40" x2="284.63" y2="544.80" stroke="#000" stroke-width="1.15" />
<line x1="291.27" y1="542.40" x2="291.27" y2="544.80" stroke="#000" stroke-width="1.15" />
<line x1="297.90" y1="542.40" x2="297.90" y2="544.80" stroke="#000" stroke-width="1.15" />
<line x1="304.53" y1="542.40" x2="304.53" y2="544.80" stroke="#000" stroke-width="1.15" />
<line x1="311.17" y1="542.40" x2="311.17" y2="544.80" stroke="#000" stroke-width="1.15" />
<line x1="317.80" y1="542.40" x2="317.80" y2="544.80" stroke="#000" stroke-width="1.15" />
<line x1="324.43" y1="542.40" x2="324.43" y2="544.80" stroke="#000" stroke-width="1.15" />
<line x1="331.07" y1="542.40" x2="331.07" y2="544.80" stroke="#000" stroke-width="1.15" />
<line x1="337.70" y1="542.40" x2="337.70" y2="544.80" stroke="#000" stroke-width="1.15" />
<line x1="344.33" y1="542.40" x2="344.33" y2="547.00" stroke="#000" stroke-width="1.4" />
<text x="344.33" y="554.82" text-anchor="middle" font-size="7.0" font-weight="normal" stroke="#111" stroke-width="0.2" >10</text>
<line x1="350.97" y1="542.40" x2="350.97" y2="544.80" stroke="#000" stroke-width="1.15" />
<line x1="357.60" y1="542.40" x2="357.60" y2="544.80" stroke="#000" stroke-width="1.15" />
<line x1="364.23" y1="542.40" x2="364.23" y2="544.80" stroke="#000" stroke-width="1.15" />
<line x1="370.87" y1="542.40" x2="370.87" y2="544.80" stroke="#000" stroke-width="1.15" />
<line x1="377.50" y1="542.40" x2="377.50" y2="544.80" stroke="#000" stroke-width="1.15" />
<line x1="384.13" y1="542.40" x2="384.13" y2="544.80" stroke="#000" stroke-width="1.15" />
<line x1="390.77" y1="542.40" x2="390.77" y2="544.80" stroke="#000" stroke-width="1.15" />
<line x1="397.40" y1="542.40" x2="397.40" y2="544.80" stroke="#000" stroke-width="1.15" />
<line x1="404.03" y1="542.40" x2="404.03" y2="544.80" stroke="#000" stroke-width="1.15" />
<line x1="410.67" y1="542.40" x2="410.67" y2="547.00" stroke="#000" stroke-width="1.4" />
<text x="410.67" y="554.82" text-anchor="middle" font-size="7.0" font-weight="normal" stroke="#111" stroke-width="0.2" >20</text>
<line x1="417.30" y1="542.40" x2="417.30" y2="544.80" stroke="#000" stroke-width="1.15" />
<line x1="423.93" y1="542.40" x2="423.93" y2="544.80" stroke="#000" stroke-width="1.15" />
<line x1="430.57" y1="542.40" x2="430.57" y2="544.80" stroke="#000" stroke-width="1.15" />
<line x1="437.20" y1="542.40" x2="437.20" y2="544.80" stroke="#000" stroke-width="1.15" />
<line x1="443.83" y1="542.40" x2="443.83" y2="544.80" stroke="#000" stroke-width="1.15" />
<line x1="450.47" y1="542.40" x2="450.47" y2="544.80" stroke="#000" stroke-width="1.15" />
<line x1="457.10" y1="542.40" x2="457.10" y2="544.80" stroke="#000" stroke-width="1.15" />
<line x1="463.73" y1="542.40" x2="463.73" y2="544.80" stroke="#000" stroke-width="1.15" />
<line x1="470.37" y1="542.40" x2="470.37" y2="544.80" stroke="#000" stroke-width="1.15" />
<line x1="477.00" y1="542.40" x2="477.00" y2="547.00" stroke="#000" stroke-width="1.4" />
<text x="477.00" y="554.82" text-anchor="middle" font-size="7.0" font-weight="normal" stroke="#111" stroke-width="0.2" >30</text>
<text x="377.25" y="566.50" text-anchor="middle" font-size="6.8" font-weight="bold" textLength="44.50" lengthAdjust="spacingAndGlyphs" stroke="#111" stroke-width="0.12" >Time (minutes)</text>
<text transform="translate(255.70,534.50) rotate(-90)" font-size="7.0" font-weight="bold" textLength="134.50" lengthAdjust="spacingAndGlyphs">Total peripheral resistance (dyne*s/cm<tspan font-size="4.6" dy="-2.6">5</tspan><tspan dy="2.6">)</tspan></text>
<polyline points="278.00,476.16 311.17,463.32 344.33,482.58 377.50,490.02 410.67,505.05 443.83,498.48" fill="none" stroke="#f01414" stroke-width="1.0" stroke-dasharray="1.76,0.99,0.66,0.99"/>
<polyline points="278.00,449.61 311.17,442.02 344.33,428.16 377.50,437.35 410.67,439.69 443.83,441.73" fill="none" stroke="#000" stroke-width="1.05" stroke-dasharray="1.71,1.40"/>
<polyline points="278.00,441.73 311.17,438.23 344.33,429.62 377.50,433.12 410.67,431.37 443.83,436.91" fill="none" stroke="#000" stroke-width="1.0" />
<line x1="278.00" y1="426.41" x2="278.00" y2="457.05" stroke="#000" stroke-width="0.95" />
<line x1="275.30" y1="426.41" x2="280.70" y2="426.41" stroke="#000" stroke-width="1.2" />
<line x1="275.30" y1="457.05" x2="280.70" y2="457.05" stroke="#000" stroke-width="1.2" />
<line x1="311.17" y1="421.45" x2="311.17" y2="455.01" stroke="#000" stroke-width="0.95" />
<line x1="308.47" y1="421.45" x2="313.87" y2="421.45" stroke="#000" stroke-width="1.2" />
<line x1="308.47" y1="455.01" x2="313.87" y2="455.01" stroke="#000" stroke-width="1.2" />
<line x1="344.33" y1="416.93" x2="344.33" y2="442.31" stroke="#000" stroke-width="0.95" />
<line x1="341.63" y1="416.93" x2="347.03" y2="416.93" stroke="#000" stroke-width="1.2" />
<line x1="341.63" y1="442.31" x2="347.03" y2="442.31" stroke="#000" stroke-width="1.2" />
<line x1="377.50" y1="422.03" x2="377.50" y2="444.21" stroke="#000" stroke-width="0.95" />
<line x1="374.80" y1="422.03" x2="380.20" y2="422.03" stroke="#000" stroke-width="1.2" />
<line x1="374.80" y1="444.21" x2="380.20" y2="444.21" stroke="#000" stroke-width="1.2" />
<line x1="410.67" y1="417.22" x2="410.67" y2="445.52" stroke="#000" stroke-width="0.95" />
<line x1="407.97" y1="417.22" x2="413.37" y2="417.22" stroke="#000" stroke-width="1.2" />
<line x1="407.97" y1="445.52" x2="413.37" y2="445.52" stroke="#000" stroke-width="1.2" />
<line x1="443.83" y1="422.62" x2="443.83" y2="451.21" stroke="#000" stroke-width="0.95" />
<line x1="441.13" y1="422.62" x2="446.53" y2="422.62" stroke="#000" stroke-width="1.2" />
<line x1="441.13" y1="451.21" x2="446.53" y2="451.21" stroke="#000" stroke-width="1.2" />
<line x1="278.00" y1="443.04" x2="278.00" y2="456.17" stroke="#000" stroke-width="0.95" />
<line x1="275.30" y1="443.04" x2="280.70" y2="443.04" stroke="#000" stroke-width="1.2" />
<line x1="275.30" y1="456.17" x2="280.70" y2="456.17" stroke="#000" stroke-width="1.2" />
<line x1="311.17" y1="434.73" x2="311.17" y2="449.32" stroke="#000" stroke-width="0.95" />
<line x1="308.47" y1="434.73" x2="313.87" y2="434.73" stroke="#000" stroke-width="1.2" />
<line x1="308.47" y1="449.32" x2="313.87" y2="449.32" stroke="#000" stroke-width="1.2" />
<line x1="344.33" y1="421.01" x2="344.33" y2="435.31" stroke="#000" stroke-width="0.95" />
<line x1="341.63" y1="421.01" x2="347.03" y2="421.01" stroke="#000" stroke-width="1.2" />
<line x1="341.63" y1="435.31" x2="347.03" y2="435.31" stroke="#000" stroke-width="1.2" />
<line x1="377.50" y1="430.20" x2="377.50" y2="444.50" stroke="#000" stroke-width="0.95" />
<line x1="374.80" y1="430.20" x2="380.20" y2="430.20" stroke="#000" stroke-width="1.2" />
<line x1="374.80" y1="444.50" x2="380.20" y2="444.50" stroke="#000" stroke-width="1.2" />
<line x1="410.67" y1="433.41" x2="410.67" y2="445.96" stroke="#000" stroke-width="0.95" />
<line x1="407.97" y1="433.41" x2="413.37" y2="433.41" stroke="#000" stroke-width="1.2" />
<line x1="407.97" y1="445.96" x2="413.37" y2="445.96" stroke="#000" stroke-width="1.2" />
<line x1="443.83" y1="436.77" x2="443.83" y2="446.69" stroke="#000" stroke-width="0.95" />
<line x1="441.13" y1="436.77" x2="446.53" y2="436.77" stroke="#000" stroke-width="1.2" />
<line x1="441.13" y1="446.69" x2="446.53" y2="446.69" stroke="#000" stroke-width="1.2" />
<line x1="278.00" y1="470.33" x2="278.00" y2="482.00" stroke="#000" stroke-width="0.95" />
<line x1="275.30" y1="470.33" x2="280.70" y2="470.33" stroke="#000" stroke-width="1.2" />
<line x1="275.30" y1="482.00" x2="280.70" y2="482.00" stroke="#000" stroke-width="1.2" />
<line x1="311.17" y1="455.44" x2="311.17" y2="471.20" stroke="#000" stroke-width="0.95" />
<line x1="308.47" y1="455.44" x2="313.87" y2="455.44" stroke="#000" stroke-width="1.2" />
<line x1="308.47" y1="471.20" x2="313.87" y2="471.20" stroke="#000" stroke-width="1.2" />
<line x1="344.33" y1="476.60" x2="344.33" y2="488.56" stroke="#000" stroke-width="0.95" />
<line x1="341.63" y1="476.60" x2="347.03" y2="476.60" stroke="#000" stroke-width="1.2" />
<line x1="341.63" y1="488.56" x2="347.03" y2="488.56" stroke="#000" stroke-width="1.2" />
<line x1="377.50" y1="482.73" x2="377.50" y2="497.32" stroke="#000" stroke-width="0.95" />
<line x1="374.80" y1="482.73" x2="380.20" y2="482.73" stroke="#000" stroke-width="1.2" />
<line x1="374.80" y1="497.32" x2="380.20" y2="497.32" stroke="#000" stroke-width="1.2" />
<line x1="410.67" y1="497.46" x2="410.67" y2="512.64" stroke="#000" stroke-width="0.95" />
<line x1="407.97" y1="497.46" x2="413.37" y2="497.46" stroke="#000" stroke-width="1.2" />
<line x1="407.97" y1="512.64" x2="413.37" y2="512.64" stroke="#000" stroke-width="1.2" />
<line x1="443.83" y1="491.48" x2="443.83" y2="505.49" stroke="#000" stroke-width="0.95" />
<line x1="441.13" y1="491.48" x2="446.53" y2="491.48" stroke="#000" stroke-width="1.2" />
<line x1="441.13" y1="505.49" x2="446.53" y2="505.49" stroke="#000" stroke-width="1.2" />
</g>
<line x1="486.20" y1="6.20" x2="494.90" y2="6.20" stroke="#333" stroke-width="1.4" />
<line x1="486.00" y1="26.20" x2="495.20" y2="26.20" stroke="#000" stroke-width="1.3" stroke-dasharray="2.1,1.7"/>
<line x1="485.90" y1="46.40" x2="494.60" y2="46.40" stroke="#f01414" stroke-width="1.2" stroke-dasharray="2.7,1.4,0.8,1.5"/>
<text x="499.40" y="8.60" text-anchor="start" font-size="6.4" font-weight="normal" textLength="48.20" lengthAdjust="spacingAndGlyphs" stroke="#111" stroke-width="0.25" fill="#111">Healthy controls</text>
<text x="499.40" y="28.60" text-anchor="start" font-size="6.4" font-weight="normal" textLength="37.20" lengthAdjust="spacingAndGlyphs" stroke="#111" stroke-width="0.25" fill="#111">Non-fainters</text>
<text x="499.40" y="48.70" text-anchor="start" font-size="6.4" font-weight="normal" textLength="23.30" lengthAdjust="spacingAndGlyphs" stroke="#111" stroke-width="0.25" fill="#111">Fainters</text>
</svg>
</body></html>
